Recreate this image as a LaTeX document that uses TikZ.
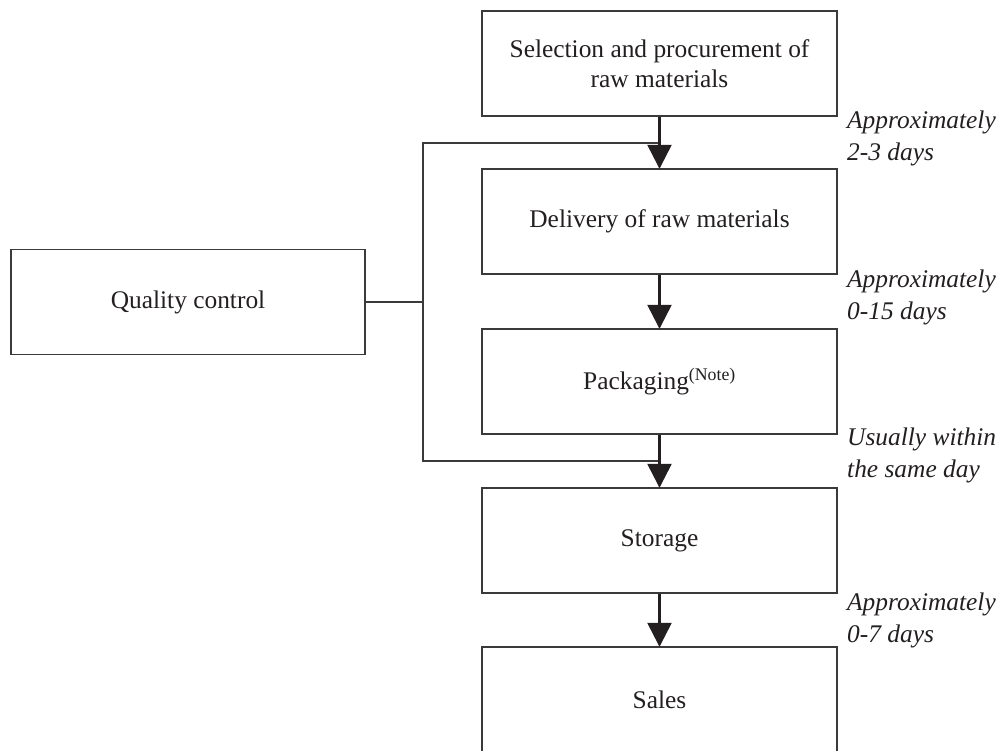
\documentclass[tikz,border=0pt]{standalone}
\usepackage{fontspec}
\setmainfont{Liberation Serif}
\usetikzlibrary{arrows.meta}
\definecolor{ink}{HTML}{231F20}
\definecolor{rule}{HTML}{3A3A3A}
\begin{document}
\begin{tikzpicture}[x=1pt,y=-1pt,
  font=\fontsize{25.4}{30}\selectfont,
  stagebox/.style={draw=rule,line width=1.4pt,minimum width=355pt,minimum height=105pt,
    inner sep=0pt,align=center,text=ink},
  flow/.style={draw=ink,line width=2.4pt,-{Triangle[width=24pt,length=24pt]},shorten >=-0.5pt},
  link/.style={draw=rule,line width=1.5pt},
  note/.style={font=\fontsize{25.4}{32}\selectfont\itshape,text=ink,align=left,
    anchor=north west,inner sep=0pt}]
  \useasboundingbox (0,0) rectangle (999,750);
  \clip (0,0) rectangle (999,750);

  % process stages
  \node[stagebox] (sel)  at (659.5,63.5)  {Selection and procurement of\\raw materials};
  \node[stagebox] (del)  at (659.5,221.5) {Delivery of raw materials};
  \node[stagebox] (pack) at (659.5,381.5) {Packaging\textsuperscript{(Note)}};
  \node[stagebox] (sto)  at (659.5,540.5) {Storage};
  \node[stagebox] (sal)  at (659.5,699.5) {Sales};
  \node[stagebox,minimum width=354pt] (qc) at (188,302) {Quality control};

  % quality control feedback bracket
  \coordinate (bt) at (423,143);
  \coordinate (bb) at (423,461);
  \draw[link] (sel.south |- bt) -- (bt) -- (bb) -- (sto.north |- bb);
  \draw[link] (qc.east) -- (qc.east -| bt);

  % main flow
  \draw[flow] (sel.south) -- (del.north);
  \draw[flow] (del.south) -- (pack.north);
  \draw[flow] (pack.south) -- (sto.north);
  \draw[flow] (sto.south) -- (sal.north);

  % lead times
  \node[note] (t1) at (847,111) {Approximately\\2-3 days};
  \node[note] (t2) at (847,270) {Approximately\\0-15 days};
  \node[note] (t3) at (847,428) {Usually within\\the same day};
  \node[note] (t4) at (847,593) {Approximately\\0-7 days};
\end{tikzpicture}
\end{document}
